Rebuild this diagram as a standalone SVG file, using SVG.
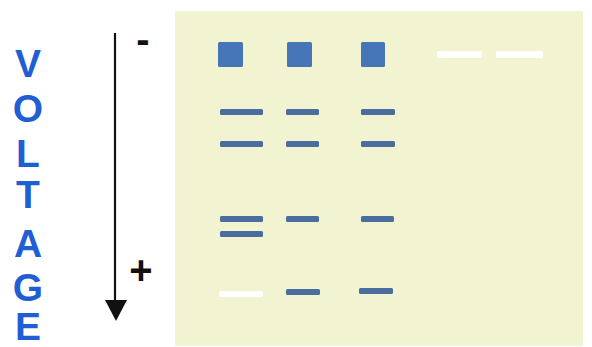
<svg xmlns="http://www.w3.org/2000/svg" width="592" height="347" viewBox="0 0 592 347">
  <style>
    .letter { font-family: "Liberation Sans", Arial, sans-serif; font-weight: bold; font-size: 39px; fill: #1f5fd3; text-anchor: middle; }
    .sign { font-family: "Liberation Sans", Arial, sans-serif; font-weight: bold; font-size: 40px; fill: #111111; text-anchor: middle; }
    .well { fill: #4676b8; }
    .band { fill: #4a6d9e; }
    .white { fill: #ffffff; }
  </style>
  <rect width="592" height="347" fill="#ffffff"/>

  <g id="gel">
    <rect x="175" y="11" width="408" height="335" fill="#f2f3d0"/>
  </g>

  <g id="voltage-label">
    <text class="letter"><tspan x="28" y="77">V</tspan><tspan x="28" y="122">O</tspan><tspan x="28" y="167">L</tspan><tspan x="28" y="208">T</tspan><tspan x="28" y="257">A</tspan><tspan x="28" y="301">G</tspan><tspan x="28" y="340">E</tspan></text>
  </g>

  <g id="connectors">
    <line x1="115" y1="33" x2="115" y2="302" stroke="#111111" stroke-width="2.2"/>
    <polygon points="105,300 127,300 116,321" fill="#111111"/>
  </g>

  <g id="minus-pole">
    <text class="sign" x="143" y="53">-</text>
  </g>
  <g id="plus-pole">
    <text class="sign" x="141" y="284">+</text>
  </g>

  <g id="lane1">
    <rect class="well" x="218" y="42" width="25" height="25" rx="1.5"/>
    <rect class="band" x="220" y="109" width="43" height="6" rx="1.5"/>
    <rect class="band" x="220" y="141" width="43" height="6" rx="1.5"/>
    <rect class="band" x="220" y="216" width="43" height="6" rx="1.5"/>
    <rect class="band" x="220" y="231" width="43" height="6" rx="1.5"/>
    <rect class="white" x="219" y="291" width="44" height="6" rx="1.5"/>
  </g>
  <g id="lane2">
    <rect class="well" x="287" y="42" width="25" height="25" rx="1.5"/>
    <rect class="band" x="286" y="109" width="33" height="6" rx="1.5"/>
    <rect class="band" x="286" y="141" width="33" height="6" rx="1.5"/>
    <rect class="band" x="286" y="216" width="33" height="6" rx="1.5"/>
    <rect class="band" x="286" y="289" width="34" height="6" rx="1.5"/>
  </g>
  <g id="lane3">
    <rect class="well" x="361" y="42" width="24" height="25" rx="1.5"/>
    <rect class="band" x="361" y="109" width="34" height="6" rx="1.5"/>
    <rect class="band" x="361" y="141" width="34" height="6" rx="1.5"/>
    <rect class="band" x="361" y="216" width="33" height="6" rx="1.5"/>
    <rect class="band" x="359" y="288" width="34" height="6" rx="1.5"/>
  </g>
  <g id="lane4">
    <rect class="white" x="437" y="51" width="45" height="7" rx="1.5"/>
  </g>
  <g id="lane5">
    <rect class="white" x="496" y="51" width="47" height="7" rx="1.5"/>
  </g>
</svg>
